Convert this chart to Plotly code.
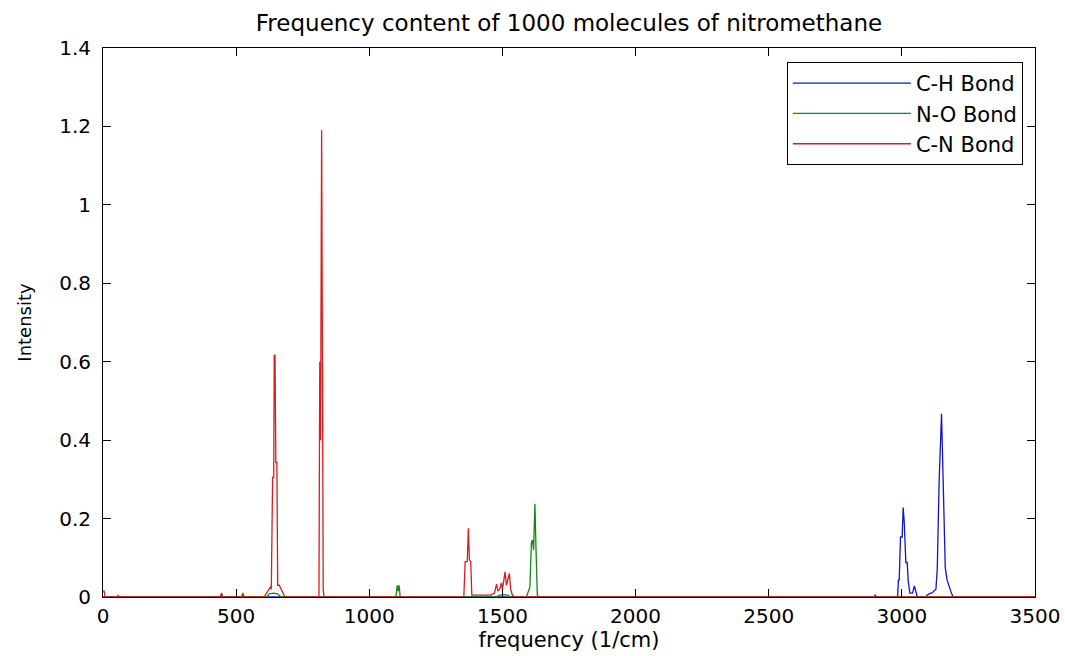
import plotly.graph_objects as go

# ---- data ----
ch_freq = [0, 2895, 2900, 2905, 2984, 2987, 2990, 2995, 3001, 3005, 3009, 3015, 3020, 3024,
           3030, 3040, 3047, 3052, 3058, 3090, 3095, 3108, 3113, 3120, 3128, 3133, 3140,
           3149, 3155, 3163, 3170, 3178, 3187, 3193, 3500]
ch_int = [0, 0, 0.005, 0, 0, 0.043, 0.043, 0.153, 0.153, 0.228, 0.19, 0.088, 0.088, 0.04,
          0.01, 0.01, 0.028, 0.012, 0, 0, 0.005, 0.01, 0.01, 0.015, 0.02, 0.072, 0.296,
          0.467, 0.3, 0.075, 0.043, 0.025, 0.008, 0, 0]

no_freq = [0, 440, 445, 450, 520, 525, 530, 615, 625, 640, 655, 670, 1100, 1105, 1108,
           1112, 1116, 1475, 1490, 1505, 1520, 1530, 1590, 1596, 1603, 1609, 1613, 1617,
           1622, 1626, 1631, 1636, 3500]
no_int = [0, 0, 0.01, 0, 0, 0.01, 0, 0, 0.008, 0.01, 0.008, 0, 0, 0.03, 0.015,
          0.03, 0, 0, 0.005, 0.006, 0.005, 0, 0, 0.01, 0.025, 0.14, 0.145, 0.12,
          0.238, 0.125, 0.005, 0, 0]

cn_freq = [0, 4, 8, 54, 57, 60, 442, 446, 450, 522, 526, 530, 605, 615, 622, 628, 632,
           637, 641, 643, 646, 649, 653, 656, 662, 668, 675, 683, 808, 811, 814, 817,
           821, 824, 827, 830, 1355, 1360, 1368, 1372, 1376, 1381, 1385, 1455, 1470,
           1478, 1483, 1490, 1496, 1500, 1505, 1510, 1515, 1521, 1526, 1531, 1537, 1545,
           3500]
cn_int = [0.015, 0.015, 0, 0, 0.005, 0, 0, 0.008, 0, 0, 0.006, 0, 0, 0.01, 0.02, 0.025,
          0.02, 0.305, 0.305, 0.616, 0.616, 0.343, 0.343, 0.03, 0.03, 0.02, 0.01, 0, 0, 0,
          0.6, 0.4, 1.19, 0.61, 0.02, 0, 0, 0.09, 0.09, 0.175, 0.095, 0.09, 0.005,
          0.005, 0.01, 0.033, 0.015, 0.02, 0.036, 0.02, 0.04, 0.064, 0.03, 0.045, 0.06,
          0.02, 0.005, 0, 0]

series_names = ["C-H Bond", "N-O Bond", "C-N Bond"]
series_colors = ["#1414c8", "#128a12", "#dc1c1c"]

x_ticks = [0, 500, 1000, 1500, 2000, 2500, 3000, 3500]
y_ticks = [0, 0.2, 0.4, 0.6, 0.8, 1, 1.2, 1.4]

FONT = "DejaVu Sans"

fig = go.Figure()
for xs, ys, name, col in zip([ch_freq, no_freq, cn_freq], [ch_int, no_int, cn_int],
                             series_names, series_colors):
    fig.add_trace(go.Scatter(x=xs, y=ys, mode="lines", name=name,
                             line=dict(color=col, width=1.3)))

axis_common = dict(showline=True, linecolor="black", linewidth=1, mirror="ticks",
                   ticks="inside", ticklen=8, tickcolor="black", tickwidth=1,
                   showgrid=False, zeroline=False,
                   tickfont=dict(family=FONT, size=20, color="black"))

fig.update_xaxes(range=[0, 3500], tickvals=x_ticks, ticklabelstandoff=1,
                 title=dict(text="frequency (1/cm)", font=dict(family=FONT, size=21, color="black"),
                            standoff=0),
                 **axis_common)
fig.update_yaxes(range=[0, 1.4], tickvals=y_ticks, ticklabelstandoff=7,
                 title=dict(text="Intensity", font=dict(family=FONT, size=18, color="black"),
                            standoff=22),
                 **axis_common)

fig.update_layout(
    width=1065, height=656,
    margin=dict(l=103, r=30, t=48, b=59, autoexpand=False),
    paper_bgcolor="white", plot_bgcolor="white",
    title=dict(text="Frequency content of 1000 molecules of nitromethane",
               font=dict(family=FONT, size=23, color="black"),
               x=0.5, xref="paper", xanchor="center", y=1 - 23 / 656, yanchor="middle"),
    legend=dict(x=0.987, y=0.9745, xanchor="right", yanchor="top",
                bgcolor="white", bordercolor="black", borderwidth=1,
                font=dict(family=FONT, size=21, color="black"),
                itemwidth=118),
    showlegend=True,
)

fig.write_html("out.html")
